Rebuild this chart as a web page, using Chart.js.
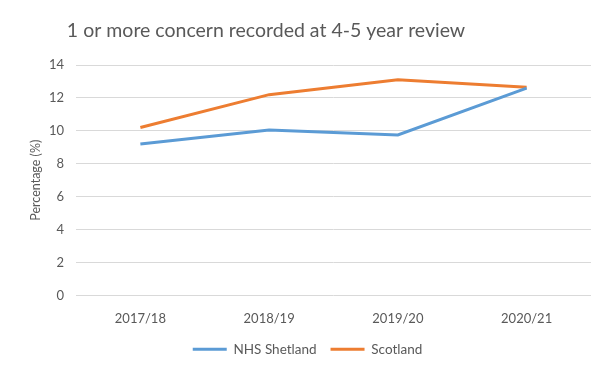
<!DOCTYPE html>
<html><head><meta charset="utf-8">
<script src="https://cdn.jsdelivr.net/npm/chart.js@4/dist/chart.umd.min.js"></script>
<style>html,body{margin:0;padding:0;background:#fff;}#wrap{width:595px;height:366px;}</style>
</head><body><div id="wrap"><canvas id="c"></canvas></div>
<script>
const categories = ["2017/18", "2018/19", "2019/20", "2020/21"];
const shetland = [9.2, 10.05, 9.75, 12.6];
const scotland = [10.2, 12.2, 13.1, 12.65];
const yTicks = [0, 2, 4, 6, 8, 10, 12, 14];
const titleText = '1 or more concern recorded at 4-5 year review';

const FONT = "Lato, 'Liberation Sans', sans-serif";
const titlePlugin = {
  id: 'customTitle',
  afterDraw(chart) {
    const ctx = chart.ctx;
    ctx.save();
    ctx.font = "normal 19.5px " + FONT;
    ctx.fillStyle = '#595959';
    ctx.textAlign = 'center';
    ctx.textBaseline = 'middle';
    ctx.fillText(titleText, 266, 31);
    ctx.restore();
  }
};
new Chart(document.getElementById('c'), {
  type: 'line',
  data: {
    labels: categories,
    datasets: [
      {label: 'NHS Shetland', data: shetland, borderColor: '#5b9bd5', backgroundColor: '#5b9bd5', borderWidth: 3, pointRadius: 0, tension: 0},
      {label: 'Scotland', data: scotland, borderColor: '#ed7d31', backgroundColor: '#ed7d31', borderWidth: 3, pointRadius: 0, tension: 0}
    ]
  },
  plugins: [titlePlugin],
  options: {
    responsive: true, maintainAspectRatio: false, animation: false,
    layout: {padding: {left: 24, right: 4, top: 65, bottom: 0}},
    plugins: {
      title: {display: false},
      legend: {position: 'bottom', labels: {usePointStyle: true, pointStyle: 'line', pointStyleWidth: 34, boxWidth: 34, boxHeight: 3, color: '#595959', font: {family: FONT, size: 13.5}, padding: 14}},
      tooltip: {enabled: false}
    },
    scales: {
      x: {offset: true, grid: {display: false, drawTicks: false}, border: {display: false},
        ticks: {color: '#595959', font: {family: FONT, size: 13}, padding: 16},
        afterFit: s => { s.height = 33; }},
      y: {min: 0, max: 14, afterBuildTicks: s => { s.ticks = yTicks.map(v => ({value: v})); },
        grid: {color: '#d9d9d9', drawTicks: false}, border: {display: false},
        ticks: {color: '#595959', font: {family: FONT, size: 13}, padding: 12},
        title: {display: true, text: 'Percentage (%)', color: '#595959', font: {family: FONT, size: 12.5}, padding: {bottom: 4}},
        afterFit: s => { s.width = 52; }}
    }
  }
});
</script></body></html>
